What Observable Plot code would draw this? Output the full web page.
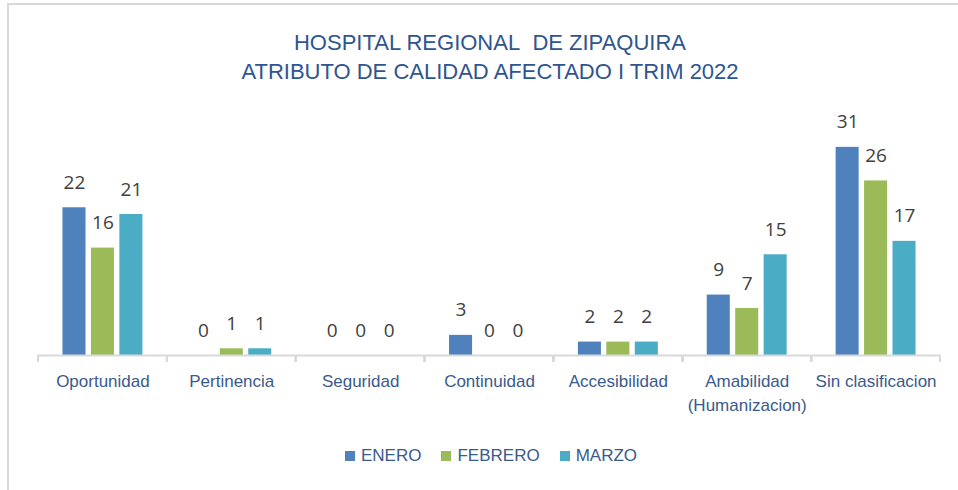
<!DOCTYPE html>
<html>
<head>
<meta charset="utf-8">
<script src="https://cdn.jsdelivr.net/npm/d3@7"></script>
<script src="https://cdn.jsdelivr.net/npm/@observablehq/plot@0.6"></script>
<style>
  html, body { margin: 0; padding: 0; background: #fff; }
  #wrap { position: relative; width: 958px; height: 490px; overflow: hidden; font-family: "Liberation Sans", Arial, sans-serif; }
  #frame { position: absolute; left: 7px; top: 3px; right: -10px; bottom: -10px; border-left: 2px solid #d9d9d9; border-top: 2px solid #d9d9d9; }
  #title { position: absolute; left: 20px; width: 940px; top: 28px; text-align: center; color: #2f5590; font-size: 22px; line-height: 29px; }
  #chart { position: absolute; left: 0; top: 100px; }
  #legend { position: absolute; left: 345px; top: 445px; display: flex; gap: 20px; font-size: 17px; color: #3a5a8c; line-height: 22px; }
  #legend .item { display: flex; align-items: center; gap: 6px; }
  #legend .sw { width: 10px; height: 10px; display: inline-block; }
</style>
</head>
<body>
<div id="wrap">
  <div id="frame"></div>
  <div id="title">HOSPITAL REGIONAL&nbsp; DE ZIPAQUIRA<br>ATRIBUTO DE CALIDAD AFECTADO I TRIM 2022</div>
  <div id="chart"></div>
  <div id="legend"></div>
</div>
<script>
const categories = ["Oportunidad", "Pertinencia", "Seguridad", "Continuidad", "Accesibilidad", "Amabilidad\n(Humanizacion)", "Sin clasificacion"];
const series = ["ENERO", "FEBRERO", "MARZO"];
const enero   = [22, 0, 0, 3, 2, 9, 31];
const febrero = [16, 1, 0, 0, 2, 7, 26];
const marzo   = [21, 1, 0, 0, 2, 15, 17];
const colors = ["#4f81bd", "#9bbb59", "#4bacc6"];

const values = [enero, febrero, marzo];
const data = [];
categories.forEach((c, i) => series.forEach((s, j) => data.push({cat: c, serie: s, value: values[j][i]})));

const W = 958, H = 320, ML = 38, MR = 18, MT = 20, MB = 65;

const boundaryTicks = (index, scales, vals, dims) => {
  const band = d3.scaleBand(categories, [ML, W - MR]);
  const y0 = scales.y(0);
  const g = d3.create("svg:g").attr("stroke", "#d9d9d9").attr("stroke-width", 2);
  const xs = categories.map(c => band(c)).concat([W - MR]);
  xs.forEach(x => g.append("line").attr("x1", x).attr("x2", x).attr("y1", y0).attr("y2", y0 + 7));
  return g.node();
};

const chart = Plot.plot({
  width: W,
  height: H,
  marginLeft: ML,
  marginRight: MR,
  marginTop: MT,
  marginBottom: MB,
  style: {background: "transparent", overflow: "visible"},
  fx: {domain: categories, padding: 0, round: false, label: null},
  x: {domain: series, paddingInner: 0.19, paddingOuter: 0.86, round: false, axis: null},
  y: {domain: [0, 35], axis: null},
  color: {domain: series, range: colors},
  marks: [
    Plot.barY(data, {fx: "cat", x: "serie", y: "value", fill: "serie"}),
    Plot.ruleY([0], {stroke: "#d9d9d9", strokeWidth: 2}),
    boundaryTicks,
    Plot.text(data, {fx: "cat", x: "serie", y: "value", text: d => String(d.value), lineAnchor: "bottom", dy: -19, fontSize: 19, fill: "#404040", fontFamily: "Open Sans"}),
    Plot.axisFx({anchor: "bottom", tickSize: 0, tickPadding: 15, fontSize: 17, fill: "#3a5a8c", lineHeight: 1.4, fontFamily: "Liberation Sans", label: null})
  ]
});
document.getElementById("chart").appendChild(chart);

const legend = document.getElementById("legend");
series.forEach((s, i) => {
  const item = document.createElement("div");
  item.className = "item";
  const sw = document.createElement("span");
  sw.className = "sw";
  sw.style.background = colors[i];
  const t = document.createElement("span");
  t.textContent = s;
  item.appendChild(sw);
  item.appendChild(t);
  legend.appendChild(item);
});
</script>
</body>
</html>
